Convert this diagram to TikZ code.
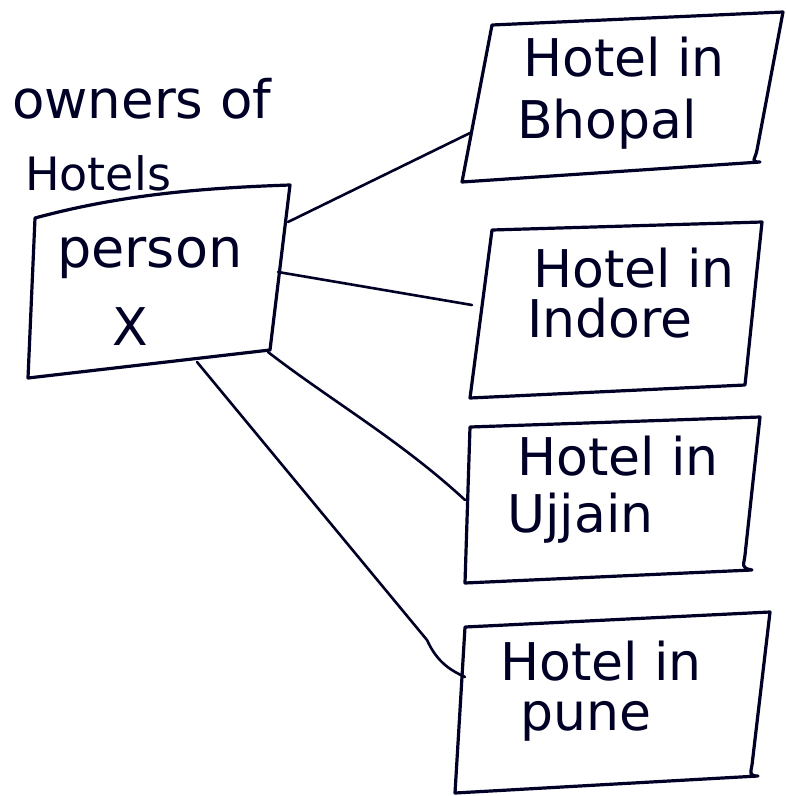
\documentclass[tikz,border=0pt]{standalone}
\usepackage{fontspec}
\setmainfont{DejaVu Sans}
\begin{document}
\begin{tikzpicture}[x=1pt,y=-1pt,
  ink/.style={draw=black!85!blue,line width=3.2pt,line join=round,line cap=round},
  hand/.style={font=\fontsize{52}{52}\selectfont,inner sep=0pt,text=black!85!blue,anchor=base west},
  link/.style={ink,line width=2.6pt}]
\useasboundingbox (0,0) rectangle (786,796);
\fill[white] (0,0) rectangle (786,796);

% corner coordinates
\coordinate (p1) at (35,218); \coordinate (p2) at (290,185);
\coordinate (p3) at (270,350); \coordinate (p4) at (28,378);
\coordinate (b1) at (492,25); \coordinate (b2) at (783,12);
\coordinate (b3) at (760,162); \coordinate (b4) at (462,182);
\coordinate (i1) at (492,230); \coordinate (i2) at (762,222);
\coordinate (i3) at (745,385); \coordinate (i4) at (470,398);
\coordinate (u1) at (470,427); \coordinate (u2) at (760,417);
\coordinate (u3) at (752,570); \coordinate (u4) at (465,583);
\coordinate (n1) at (465,627); \coordinate (n2) at (770,612);
\coordinate (n3) at (758,776); \coordinate (n4) at (455,793);

% boxes
\draw[ink] (p1) .. controls (120,195) and (200,188) .. (p2) -- (p3) -- (p4) -- cycle;
\draw[ink] (b1) -- (b2) -- (757,150) .. controls (755,160) and (750,162) .. (b3) -- (b4) -- cycle;
\draw[ink] (i1) -- (i2) -- (i3) -- (i4) -- cycle;
\draw[ink] (u1) -- (u2) -- (745,555) .. controls (744,565) and (740,568) .. (u3) -- (u4) -- cycle;
\draw[ink] (n1) -- (n2) -- (752,765) .. controls (751,772) and (748,776) .. (n3) -- (n4) -- cycle;

% texts
\node[hand,font=\fontsize{53}{53}\selectfont] (own) at (12,118) {owners of};
\node[hand,font=\fontsize{46}{46}\selectfont] (hot) at (25,190) {Hotels};
\node[hand,font=\fontsize{54}{54}\selectfont] (per) at (57,267) {person};
\node[hand] (x) at (112,345) {X};
\node[hand] (bh1) at (523,76) {Hotel in};
\node[hand] (bh2) at (517,138) {Bhopal};
\node[hand] (in1) at (533,287) {Hotel in};
\node[hand] (in2) at (527,337) {Indore};
\node[hand] (uj1) at (517,475) {Hotel in};
\node[hand] (uj2) at (507,532) {Ujjain};
\node[hand] (pu1) at (500,680) {Hotel in};
\node[hand] (pu2) at (520,730) {pune};

% connector ends
\coordinate (pa) at (288,222); \coordinate (ba) at (470,133);
\coordinate (pb) at (278,272); \coordinate (ia) at (472,305);
\coordinate (pc) at (268,352); \coordinate (ua) at (465,500);
\coordinate (pd) at (197,362); \coordinate (na) at (465,677);

\draw[link] (pa) -- (ba);
\draw[link] (pb) -- (ia);
\draw[link] (pc) .. controls (330,400) and (400,440) .. (ua);
\draw[link] (pd) -- (427,640) .. controls (437,662) and (450,670) .. (na);
\end{tikzpicture}
\end{document}
